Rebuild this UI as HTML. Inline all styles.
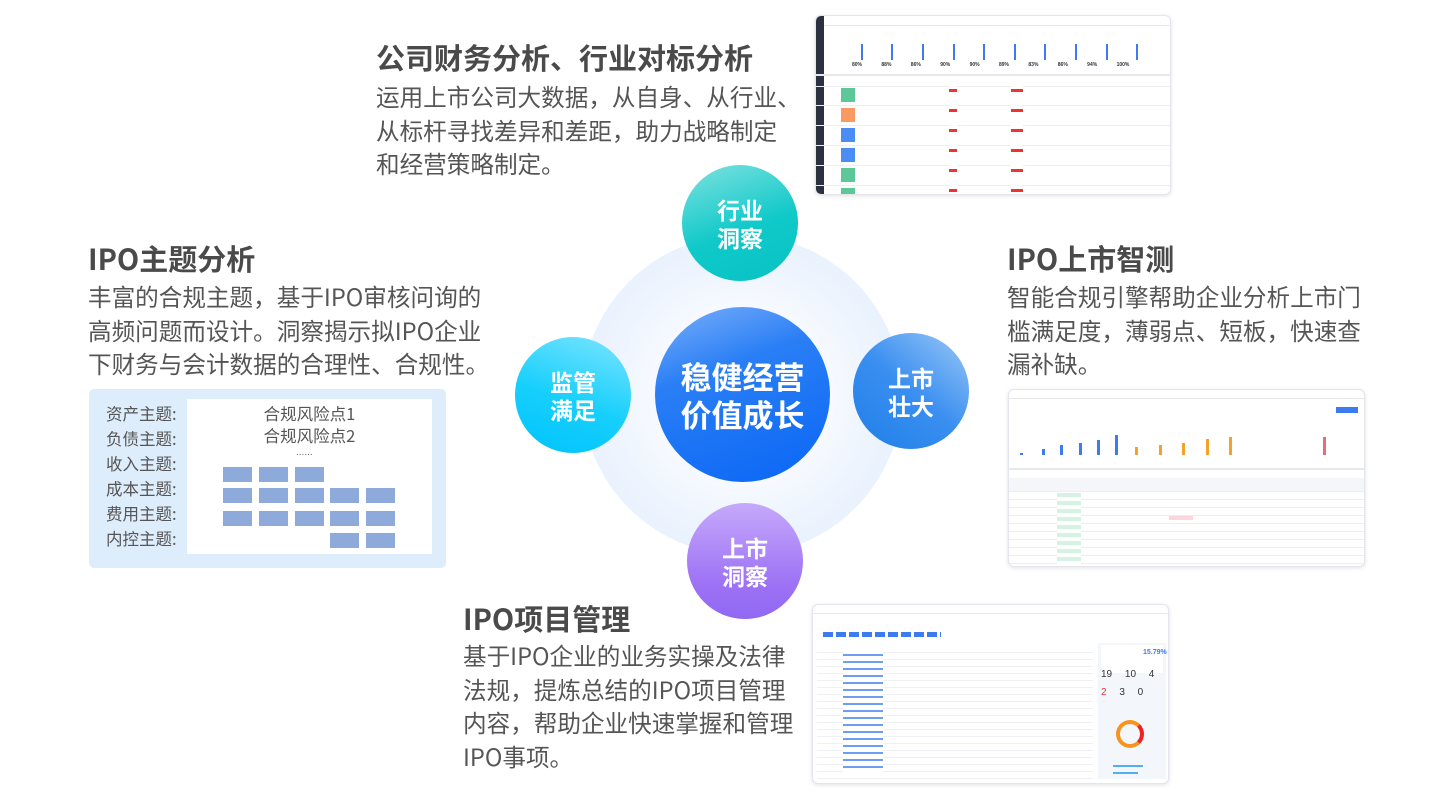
<!DOCTYPE html>
<html><head><meta charset="utf-8"><style>
*{margin:0;padding:0;box-sizing:border-box}
body{width:1456px;height:800px;background:#fff;position:relative;overflow:hidden;font-family:"Noto Sans CJK SC","Liberation Sans",sans-serif;color:#555}
.a{position:absolute;white-space:nowrap}
.h{font-size:29px;line-height:34px;font-weight:bold;color:#4a4a4a}
.t{font-size:23.6px;line-height:33.5px;color:#555}
.c{position:absolute;border-radius:50%;display:flex;align-items:center;justify-content:center;text-align:center;color:#fff;font-weight:bold}
.b{position:absolute;width:29px;height:15px;background:#8eaadb}
.ss{position:absolute;background:#fff;border:1px solid #e3e6ec;border-radius:6px;box-shadow:0 1px 4px rgba(0,0,0,.12);overflow:hidden}
.bar{position:absolute;background:#3d7cf0}
.row{position:absolute;left:0;right:0;height:1px;background:#eceef2}
</style></head><body>

<div class="a h" style="left:376px;top:40px">公司财务分析、行业对标分析</div>
<div class="a t" style="left:376px;top:80px">运用上市公司大数据，从自身、从行业、<br>从标杆寻找差异和差距，助力战略制定<br>和经营策略制定。</div>

<div class="a h" style="left:88px;top:241px">IPO主题分析</div>
<div class="a t" style="left:88px;top:280px">丰富的合规主题，基于IPO审核问询的<br>高频问题而设计。洞察揭示拟IPO企业<br>下财务与会计数据的合理性、合规性。</div>

<div class="a h" style="left:1007px;top:241px">IPO上市智测</div>
<div class="a t" style="left:1007px;top:280px">智能合规引擎帮助企业分析上市门<br>槛满足度，薄弱点、短板，快速查<br>漏补缺。</div>

<div class="a h" style="left:463px;top:601px">IPO项目管理</div>
<div class="a t" style="left:463px;top:639px">基于IPO企业的业务实操及法律<br>法规，提炼总结的IPO项目管理<br>内容，帮助企业快速掌握和管理<br>IPO事项。</div>

<!-- left box -->
<div class="a" style="left:89px;top:389px;width:357px;height:179px;background:#deedfc;border-radius:5px"></div>
<div class="a" style="left:187px;top:399px;width:245px;height:155px;background:#fff"></div>
<div class="a" style="left:106px;top:401px;font-size:16.5px;line-height:25px;color:#555">资产主题:<br>负债主题:<br>收入主题:<br>成本主题:<br>费用主题:<br>内控主题:</div>
<div class="a" style="left:187px;top:402px;width:245px;text-align:center;font-size:16.5px;line-height:22px;color:#555">合规风险点1<br>合规风险点2</div>
<div class="a" style="left:296px;top:447px;font-size:10px;color:#666;letter-spacing:0px;font-family:'Liberation Sans',sans-serif">......</div>
<div class="b" style="left:223px;top:467px"></div><div class="b" style="left:259px;top:467px"></div><div class="b" style="left:295px;top:467px"></div>
<div class="b" style="left:223px;top:488px"></div><div class="b" style="left:259px;top:488px"></div><div class="b" style="left:295px;top:488px"></div><div class="b" style="left:330px;top:488px"></div><div class="b" style="left:366px;top:488px"></div>
<div class="b" style="left:223px;top:511px"></div><div class="b" style="left:259px;top:511px"></div><div class="b" style="left:295px;top:511px"></div><div class="b" style="left:330px;top:511px"></div><div class="b" style="left:366px;top:511px"></div>
<div class="b" style="left:330px;top:533px"></div><div class="b" style="left:366px;top:533px"></div>

<!-- circles -->
<div class="c" style="left:582px;top:235px;width:320px;height:320px;background:radial-gradient(circle,#f6f9ff 40%,#dceafb 100%)"></div>
<div class="c" style="left:655px;top:307px;width:175px;height:175px;background:linear-gradient(160deg,#7cb0fb 0%,#2a7ff5 35%,#0a66f5 100%);font-size:31px;line-height:38px">稳健经营<br>价值成长</div>
<div class="c" style="left:682px;top:165px;width:116px;height:116px;background:linear-gradient(160deg,#7fe2e0,#10c9c9 55%,#07c2c4);font-size:23px;line-height:28px">行业<br>洞察</div>
<div class="c" style="left:515px;top:337px;width:116px;height:116px;background:linear-gradient(200deg,#7ee5ff,#17cffc 55%,#00c3fb);font-size:23px;line-height:28px">监管<br>满足</div>
<div class="c" style="left:853px;top:333px;width:116px;height:116px;background:linear-gradient(220deg,#9cc8f7,#3a8ff0 50%,#1f7fe8);font-size:23px;line-height:28px">上市<br>壮大</div>
<div class="c" style="left:687px;top:503px;width:116px;height:116px;background:linear-gradient(180deg,#c6a9fb,#9d72f5 70%,#9168f3);font-size:23px;line-height:28px">上市<br>洞察</div>

<!-- screenshot 1 -->
<div class="ss" style="left:815px;top:15px;width:356px;height:180px">
 <div class="a" style="left:0;top:0;width:8px;height:180px;background:#2b3140"></div>
 <div class="a" style="left:8px;top:0;right:0;height:10px;border-bottom:1px solid #e8e8e8"></div>
 <div class="bar" style="left:45px;top:28px;width:2px;height:16px"></div><div class="bar" style="left:75px;top:28px;width:2px;height:16px"></div><div class="bar" style="left:106px;top:28px;width:2px;height:16px"></div><div class="bar" style="left:137px;top:28px;width:2px;height:16px"></div><div class="bar" style="left:167px;top:28px;width:2px;height:16px"></div><div class="bar" style="left:198px;top:28px;width:2px;height:16px"></div><div class="bar" style="left:228px;top:28px;width:2px;height:16px"></div><div class="bar" style="left:259px;top:28px;width:2px;height:16px"></div><div class="bar" style="left:290px;top:28px;width:2px;height:16px"></div><div class="bar" style="left:320px;top:28px;width:2px;height:16px"></div>
 <div class="a" style="left:36px;top:46px;font-size:5px;font-weight:bold;color:#333;word-spacing:18px;font-family:'Liberation Sans',sans-serif">80% 88% 86% 90% 90% 89% 83% 86% 94% 100%</div>
 <div class="row" style="top:58px;height:2px;background:#e6e8ee"></div>
 <div class="row" style="top:70px"></div>
 <div class="a" style="left:25px;top:72px;width:14px;height:14px;background:#5cc898"></div>
 <div class="a" style="left:25px;top:92px;width:14px;height:14px;background:#fa9a63"></div>
 <div class="a" style="left:25px;top:112px;width:14px;height:14px;background:#4b8cf5"></div>
 <div class="a" style="left:25px;top:132px;width:14px;height:14px;background:#4b8cf5"></div>
 <div class="a" style="left:25px;top:152px;width:14px;height:14px;background:#5cc898"></div>
 <div class="a" style="left:25px;top:172px;width:14px;height:14px;background:#5cc898"></div>
 <div class="row" style="top:89px"></div><div class="row" style="top:109px"></div><div class="row" style="top:129px"></div><div class="row" style="top:149px"></div><div class="row" style="top:169px"></div>
 <div class="a" style="left:133px;top:70px;width:8px;height:110px;background:repeating-linear-gradient(#fff 0 3px,#e33 3px 6px,#fff 6px 20px)"></div>
 <div class="a" style="left:195px;top:70px;width:12px;height:110px;background:repeating-linear-gradient(#fff 0 3px,#e33 3px 6px,#fff 6px 20px)"></div>
</div>

<!-- screenshot 2 -->
<div class="ss" style="left:1008px;top:389px;width:357px;height:178px">
 <div class="a" style="left:0;top:0;right:0;height:9px;border-bottom:1px solid #e8e8e8"></div>
 <div class="a" style="right:6px;top:17px;width:22px;height:6px;background:#3d7cf0"></div>
 <div class="bar" style="left:11px;top:63px;width:3px;height:2px"></div><div class="bar" style="left:33px;top:59px;width:3px;height:6px"></div><div class="bar" style="left:51px;top:55px;width:3px;height:10px"></div><div class="bar" style="left:70px;top:53px;width:3px;height:12px"></div><div class="bar" style="left:88px;top:50px;width:3px;height:15px"></div><div class="bar" style="left:106px;top:45px;width:3px;height:20px"></div>
 <div class="bar" style="left:126px;top:57px;width:3px;height:8px;background:#f5a22c"></div><div class="bar" style="left:150px;top:55px;width:3px;height:10px;background:#f5a22c"></div><div class="bar" style="left:173px;top:53px;width:3px;height:12px;background:#f5a22c"></div><div class="bar" style="left:197px;top:49px;width:3px;height:16px;background:#f5a22c"></div><div class="bar" style="left:220px;top:47px;width:3px;height:18px;background:#f5a22c"></div>
 <div class="bar" style="left:314px;top:47px;width:3px;height:18px;background:#ec6a74"></div>
 <div class="row" style="top:78px;height:2px;background:#e6e8ee"></div>
 <div class="a" style="left:0;top:88px;right:0;height:13px;background:#f4f6fa"></div>
 <div class="row" style="top:101px"></div><div class="row" style="top:109px"></div><div class="row" style="top:117px"></div><div class="row" style="top:125px"></div><div class="row" style="top:133px"></div><div class="row" style="top:141px"></div><div class="row" style="top:149px"></div><div class="row" style="top:157px"></div><div class="row" style="top:165px"></div><div class="row" style="top:173px"></div>
 <div class="a" style="left:48px;top:103px;width:24px;height:72px;background:repeating-linear-gradient(#d6f2e2 0 4px,#fff 4px 8px)"></div>
 <div class="a" style="left:160px;top:126px;width:24px;height:4px;background:#fbd6dc"></div>
</div>

<!-- screenshot 3 -->
<div class="ss" style="left:812px;top:604px;width:357px;height:180px">
 <div class="a" style="left:0;top:0;right:0;height:9px;border-bottom:1px solid #e8e8e8"></div>
 <div class="a" style="left:10px;top:27px;width:118px;height:5px;background:repeating-linear-gradient(90deg,#3d7cf0 0 10px,#fff 10px 13px)"></div>
 <div class="a" style="left:4px;top:41px;width:276px;height:135px;background:repeating-linear-gradient(#fff 0 6px,#eef0f4 6px 7px)"></div>
 <div class="a" style="left:30px;top:47px;width:40px;height:120px;background:repeating-linear-gradient(#fff 0 2px,#6e9df2 2px 4px,#fff 4px 7px)"></div>
 <div class="a" style="left:285px;top:38px;width:68px;height:136px;background:#f3f6fb"></div>
 <div class="a" style="left:288px;top:40px;width:62px;height:28px;background:#fff"></div>
 <div class="a" style="left:330px;top:44px;font-size:7px;color:#3d7cf0;font-weight:bold;font-family:'Liberation Sans',sans-serif">15.79%</div>
 <div class="a" style="left:288px;top:64px;font-size:10px;color:#333;word-spacing:10px;font-family:'Liberation Sans',sans-serif">19 10 4</div>
 <div class="a" style="left:288px;top:82px;font-size:10px;color:#333;word-spacing:10px;font-family:'Liberation Sans',sans-serif"><span style="color:#e33">2</span> 3 0</div>
 <div class="a" style="left:303px;top:115px;width:28px;height:28px;border-radius:50%;border:4px solid #f7941d;border-right-color:#e22;border-top-color:#f7941d"></div>
 <div class="a" style="left:300px;top:160px;width:30px;height:2px;background:#52b0f0"></div>
 <div class="a" style="left:300px;top:167px;width:25px;height:2px;background:#52b0f0"></div>
</div>

</body></html>
